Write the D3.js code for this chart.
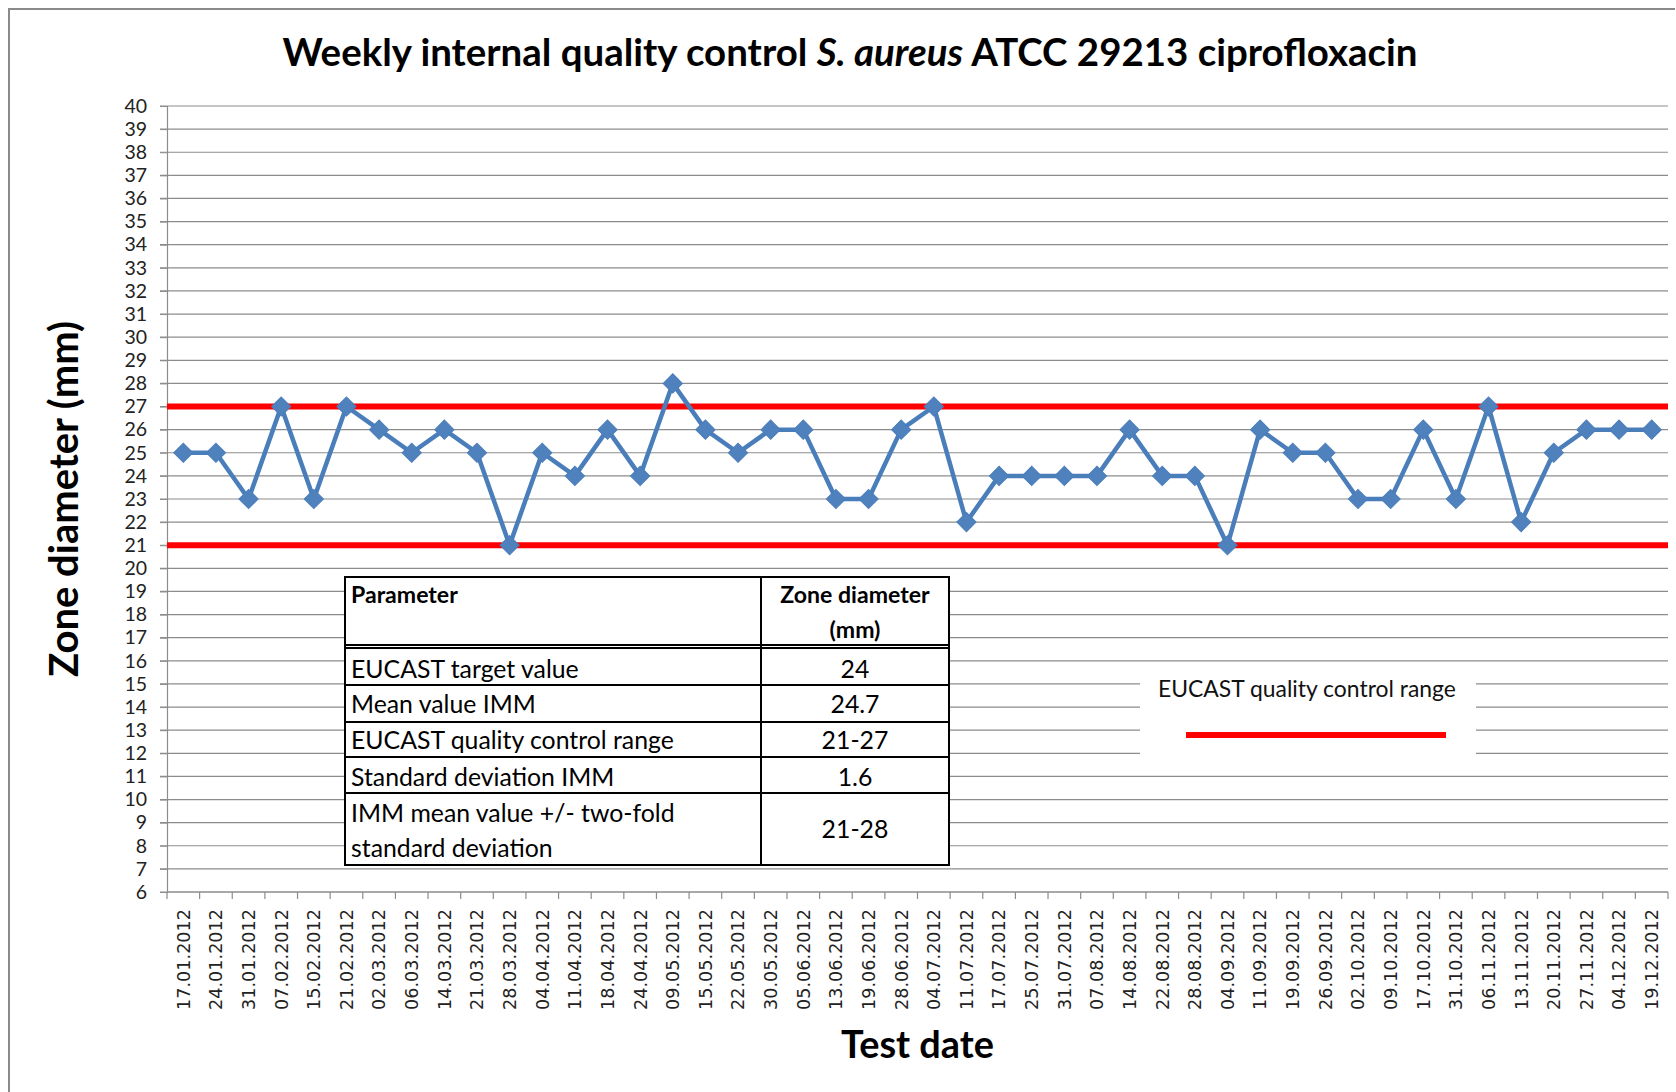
<!DOCTYPE html>
<html>
<head>
<meta charset="utf-8">
<script src="https://cdn.jsdelivr.net/npm/d3@7"></script>
<style>
  html, body { margin: 0; padding: 0; background: #fff; }
  svg { display: block; }
</style>
</head>
<body>
<svg id="chart" width="1676" height="1092"></svg>
<script>
// ---------------- data ----------------
const testDates = ["17.01.2012","24.01.2012","31.01.2012","07.02.2012","15.02.2012","21.02.2012",
  "02.03.2012","06.03.2012","14.03.2012","21.03.2012","28.03.2012","04.04.2012","11.04.2012",
  "18.04.2012","24.04.2012","09.05.2012","15.05.2012","22.05.2012","30.05.2012","05.06.2012",
  "13.06.2012","19.06.2012","28.06.2012","04.07.2012","11.07.2012","17.07.2012","25.07.2012",
  "31.07.2012","07.08.2012","14.08.2012","22.08.2012","28.08.2012","04.09.2012","11.09.2012",
  "19.09.2012","26.09.2012","02.10.2012","09.10.2012","17.10.2012","31.10.2012","06.11.2012",
  "13.11.2012","20.11.2012","27.11.2012","04.12.2012","19.12.2012"];
const zoneDiameters = [25,25,23,27,23,27,26,25,26,25,21,25,24,26,24,28,26,25,26,26,
  23,23,26,27,22,24,24,24,24,26,24,24,21,26,25,25,23,23,26,23,27,22,25,26,26,26];
const qcRange = [21, 27];
const yTicks = d3.range(6, 41, 1);
const tableHeader = ["Parameter", ["Zone diameter", "(mm)"]];
const tableParams = [["EUCAST target value"], ["Mean value IMM"], ["EUCAST quality control range"],
  ["Standard deviation IMM"], ["IMM mean value +/- two-fold", "standard deviation"]];
const tableValues = ["24", "24.7", "21-27", "1.6", "21-28"];
const legendLabel = "EUCAST quality control range";

// ---------------- layout ----------------
const svg = d3.select("#chart");
const plot = {left: 167, right: 1668, top: 106, bottom: 892};
const CAL = "Lato, 'Open Sans', sans-serif";
const gridColor = "#8c8c8c";

const x = d3.scaleBand().domain(testDates).range([plot.left, plot.right]).padding(0);
const y = d3.scaleLinear().domain([6, 40]).range([plot.bottom, plot.top]);

function fitWidth(sel, target) {
  const w = sel.node().getBBox().width;
  const fs = parseFloat(sel.attr("font-size"));
  sel.attr("font-size", fs * target / w);
  return fs * target / w;
}

// outer border (top + left visible)
svg.append("path")
  .attr("d", "M9,1092 L9,9 L1675,9")
  .attr("fill", "none").attr("stroke", "#8a8a8a").attr("stroke-width", 2);

// title
const title = svg.append("text")
  .attr("x", 850).attr("y", 66)
  .attr("text-anchor", "middle")
  .attr("font-family", CAL).attr("font-weight", "bold").attr("font-size", 34)
  .attr("fill", "#000");
title.append("tspan").text("Weekly internal quality control ");
title.append("tspan").attr("font-style", "italic").text("S. aureus");
title.append("tspan").text(" ATCC 29213 ciprofloxacin");
fitWidth(title, 1135);

// gridlines
svg.append("g").selectAll("line").data(yTicks).join("line")
  .attr("x1", plot.left - 7).attr("x2", plot.right)
  .attr("y1", d => y(d)).attr("y2", d => y(d))
  .attr("stroke", gridColor).attr("stroke-width", 1.2);

// y axis
const yAxis = svg.append("g")
  .attr("transform", `translate(${plot.left},0)`)
  .call(d3.axisLeft(y).tickValues(yTicks).tickSize(7).tickPadding(13).tickFormat(d3.format("d")));
yAxis.select(".domain").attr("stroke", gridColor).attr("stroke-width", 1.2);
yAxis.selectAll(".tick line").attr("stroke", gridColor);
yAxis.selectAll(".tick text").attr("font-family", CAL).attr("font-size", 19.5).attr("fill", "#222");

// x axis (ticks between categories)
const xAxis = svg.append("g")
  .attr("transform", `translate(0,${plot.bottom})`)
  .call(d3.axisBottom(x).tickSize(0).tickPadding(0));
xAxis.select(".domain").remove();
svg.append("line")
  .attr("x1", plot.left).attr("x2", plot.right)
  .attr("y1", plot.bottom).attr("y2", plot.bottom)
  .attr("stroke", gridColor).attr("stroke-width", 1.2);
const boundaries = testDates.map(d => x(d)).concat([x(testDates[testDates.length - 1]) + x.bandwidth()]);
svg.append("g").selectAll("line").data(boundaries).join("line")
  .attr("x1", d => d).attr("x2", d => d)
  .attr("y1", plot.bottom).attr("y2", plot.bottom + 7)
  .attr("stroke", gridColor).attr("stroke-width", 1.2);
xAxis.selectAll(".tick text")
  .attr("font-family", "'DejaVu Sans', Verdana, sans-serif")
  .attr("font-size", 16).attr("fill", "#222")
  .attr("text-anchor", "end")
  .attr("transform", "translate(0,17) rotate(-90)")
  .attr("x", 0).attr("y", 0).attr("dy", "0.36em");
{
  const t = xAxis.select(".tick text");
  const w = t.node().getComputedTextLength();
  const fs = 16 * 101 / w;
  xAxis.selectAll(".tick text").attr("font-size", fs);
}

// QC range red lines
svg.append("g").selectAll("line").data(qcRange).join("line")
  .attr("x1", plot.left).attr("x2", plot.right)
  .attr("y1", d => y(d)).attr("y2", d => y(d))
  .attr("stroke", "#ff0000").attr("stroke-width", 6);

// data line
const pts = testDates.map((d, i) => ({date: d, v: zoneDiameters[i]}));
svg.append("path")
  .datum(pts)
  .attr("fill", "none").attr("stroke", "#4a7ebb").attr("stroke-width", 4.5)
  .attr("stroke-linejoin", "round")
  .attr("d", d3.line().x(d => x(d.date) + x.bandwidth() / 2).y(d => y(d.v)));
const diamond = d3.symbol().type(d3.symbolSquare).size(185);
svg.append("g").selectAll("path").data(pts).join("path")
  .attr("d", diamond)
  .attr("transform", d => `translate(${x(d.date) + x.bandwidth() / 2},${y(d.v)}) rotate(45)`)
  .attr("fill", "#4f81bd").attr("stroke", "#4a7ebb").attr("stroke-width", 1);

// legend
const lg = svg.append("g");
lg.append("rect").attr("x", 1140).attr("y", 668).attr("width", 336).attr("height", 99).attr("fill", "#fff");
const lgText = lg.append("text").attr("x", 1158).attr("y", 697)
  .attr("font-family", CAL).attr("font-size", 21).attr("fill", "#111").text(legendLabel);
fitWidth(lgText, 298);
lg.append("line").attr("x1", 1186).attr("x2", 1446).attr("y1", 735).attr("y2", 735)
  .attr("stroke", "#ff0000").attr("stroke-width", 6);

// table
const tb = {left: 345, mid: 761, right: 949};
const rowLines = [577, 645, 648, 685, 722, 757, 793, 865];
const tg = svg.append("g");
tg.append("rect").attr("x", tb.left).attr("y", rowLines[0])
  .attr("width", tb.right - tb.left).attr("height", rowLines[rowLines.length - 1] - rowLines[0])
  .attr("fill", "#fff").attr("stroke", "#000").attr("stroke-width", 2);
tg.selectAll("line.h").data(rowLines.slice(1, -1)).join("line").attr("class", "h")
  .attr("x1", tb.left).attr("x2", tb.right).attr("y1", d => d).attr("y2", d => d)
  .attr("stroke", "#000").attr("stroke-width", 2);
tg.append("line").attr("x1", tb.mid).attr("x2", tb.mid)
  .attr("y1", rowLines[0]).attr("y2", rowLines[rowLines.length - 1])
  .attr("stroke", "#000").attr("stroke-width", 2);

const probe = tg.append("text").attr("font-family", CAL).attr("font-size", 22).text(tableParams[2][0]);
const bodyFs = fitWidth(probe, 323);
probe.remove();

tg.append("text").attr("x", 351).attr("y", 603)
  .attr("font-family", CAL).attr("font-weight", "bold").attr("font-size", bodyFs * 0.93).text(tableHeader[0]);
tg.append("text").attr("x", (tb.mid + tb.right) / 2).attr("y", 603).attr("text-anchor", "middle")
  .attr("font-family", CAL).attr("font-weight", "bold").attr("font-size", bodyFs * 0.93).text(tableHeader[1][0]);
tg.append("text").attr("x", (tb.mid + tb.right) / 2).attr("y", 638).attr("text-anchor", "middle")
  .attr("font-family", CAL).attr("font-weight", "bold").attr("font-size", bodyFs * 0.93).text(tableHeader[1][1]);

const bodyBaselines = [[678], [713], [749], [786], [822, 857]];
tableParams.forEach((lines, i) => {
  lines.forEach((ln, j) => {
    tg.append("text").attr("x", 351).attr("y", bodyBaselines[i][j])
      .attr("font-family", CAL).attr("font-size", bodyFs).attr("fill", "#000").text(ln);
  });
});
const valBaselines = [678, 713, 749, 786, 838];
tableValues.forEach((v, i) => {
  tg.append("text").attr("x", (tb.mid + tb.right) / 2).attr("y", valBaselines[i]).attr("text-anchor", "middle")
    .attr("font-family", CAL).attr("font-size", bodyFs).attr("fill", "#000").text(v);
});

// axis titles
const yTitle = svg.append("text")
  .attr("transform", `translate(78,${(plot.top + plot.bottom) / 2}) rotate(-90)`)
  .attr("text-anchor", "middle")
  .attr("font-family", CAL).attr("font-weight", "bold").attr("font-size", 36).text("Zone diameter (mm)");
fitWidth(yTitle, 356);
svg.append("text")
  .attr("x", (plot.left + plot.right) / 2).attr("y", 1058)
  .attr("text-anchor", "middle")
  .attr("font-family", CAL).attr("font-weight", "bold").attr("font-size", 36).text("Test date")
  .call(s => fitWidth(s, 153));
</script>
</body>
</html>
